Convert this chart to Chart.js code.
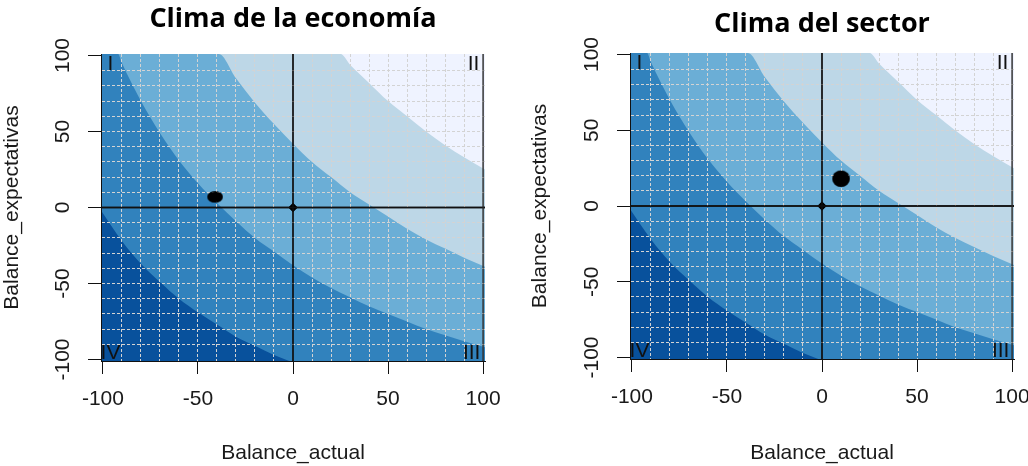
<!DOCTYPE html>
<html lang="es">
<head>
<meta charset="utf-8">
<title>Clima</title>
<script src="https://cdn.jsdelivr.net/npm/chart.js@4.4.1/dist/chart.umd.min.js"></script>
<style>
  html, body { margin: 0; padding: 0; background: #fff; overflow: hidden; }
  #wrap { position: relative; width: 1028px; height: 466px; }
  canvas { position: absolute; top: 0; }
  #chart-a { left: 0; }
  #chart-b { left: 508px; }
</style>
</head>
<body>
<div id="wrap">
  <canvas id="chart-a" width="514" height="466"></canvas>
  <canvas id="chart-b" width="520" height="466"></canvas>
</div>
<script>
const PANEL_TITLES = ['Clima de la economía', 'Clima del sector'];
const X_TITLE = 'Balance_actual';
const Y_TITLE = 'Balance_expectativas';
const AXIS_MIN = -101;
const AXIS_MAX = 101;
const TICK_LABELS = [-100, -50, 0, 50, 100];

// where each sector sits today (Balance_actual, Balance_expectativas)
const POINT_X = [-41, 10];
const POINT_Y = [7, 18];

// contour band edges (same in both panels)
const BAND_COLORS = ['#08519c', '#3182bd', '#6baed6', '#bdd7e7', '#eff3ff'];
const EDGE1_X = [-101, -90, -80, -70, -60, -50, -40, -30, -20, -10, -2];
const EDGE1_Y = [-2, -22, -37, -49, -60, -69, -77, -85, -91, -97, -101];
const EDGE2_X = [-101, -92, -90, -80, -70, -60, -50, -40, -30, -20, -10, 0, 10, 20, 30, 40, 50, 60, 70, 80, 90, 101];
const EDGE2_Y = [101, 101, 95, 70, 49, 31, 16, 3, -9, -20, -29, -38, -46, -53, -59, -65, -70, -75, -80, -84, -88, -92];
const EDGE3_X = [-101, -39, -30, -20, -10, 0, 10, 20, 30, 40, 50, 60, 70, 80, 90, 101];
const EDGE3_Y = [101, 101, 85, 69, 55, 42, 30, 20, 10, 2, -6, -14, -21, -27, -33, -39];
const EDGE4_X = [-101, 25, 30, 40, 50, 60, 70, 80, 90, 101];
const EDGE4_Y = [101, 101, 94, 82, 70, 60, 50, 41, 33, 25];
const EDGE5_X = [-101, 101];
const EDGE5_Y = [101, 101];

// reference lines: the two zero axes and the right edge at 100
const ZERO_LINE = [-101, 101];
const RIGHT_EDGE = 100;

const QUAD_LABELS = ['I', 'II', 'III', 'IV'];
const QUAD_X = [-96, 95, 94, -96];
const QUAD_Y = [94, 94, -96, -96];

const AXIS_FONT = '"Liberation Sans", Arial, sans-serif';
const TITLE_FONT = '"Open Sans", "Noto Sans", sans-serif';

// pixel layout of each panel
const LAYOUT = [
  { padRight: 29, yWidth: 101, xHeight: 105, titleTop: 3, titleBottom: 18.6, yTitlePad: 0, yTickPad: 4, dotW: 15, dotH: 11 },
  { padRight: 14, yWidth: 122, xHeight: 107, titleTop: 8.3, titleBottom: 12.3, yTitlePad: 20, yTickPad: 3.5, dotW: 17, dotH: 16 }
];

// the big marker is a slightly squashed ellipse in the original
function dotStyle(w, h) {
  const c = document.createElement('canvas');
  c.width = w + 2;
  c.height = h + 2;
  const g = c.getContext('2d');
  g.fillStyle = '#000';
  g.beginPath();
  g.ellipse(c.width / 2, c.height / 2, w / 2, h / 2, 0, 0, Math.PI * 2);
  g.fill();
  return c;
}

const quadrantText = {
  id: 'quadrantText',
  afterDraw(chart) {
    const { ctx, scales: { x, y } } = chart;
    ctx.save();
    ctx.font = '21px ' + AXIS_FONT;
    ctx.fillStyle = '#111';
    ctx.textAlign = 'center';
    ctx.textBaseline = 'middle';
    QUAD_LABELS.forEach((t, i) => {
      ctx.fillText(t, x.getPixelForValue(QUAD_X[i]), y.getPixelForValue(QUAD_Y[i]));
    });
    ctx.restore();
  }
};

// grid is drawn above the bands, so put the marks back on top of it
const marksOnTop = {
  id: 'marksOnTop',
  afterDraw(chart) {
    chart.data.datasets.forEach((ds, i) => {
      if (ds.onTop) chart.getDatasetMeta(i).controller.draw();
    });
  }
};

function band(xs, ys, color, order) {
  return {
    data: xs.map((x, i) => ({ x, y: ys[i] })),
    showLine: true,
    fill: 'start',
    backgroundColor: color,
    borderColor: 'transparent',
    borderWidth: 0,
    pointRadius: 0,
    cubicInterpolationMode: 'monotone',
    order
  };
}

function refLine(points, color, width) {
  return {
    data: points,
    showLine: true,
    fill: false,
    borderColor: color,
    borderWidth: width,
    pointRadius: 0,
    onTop: true,
    order: 1
  };
}

function axis(title, isY, lay) {
  return {
    type: 'linear',
    min: AXIS_MIN,
    max: AXIS_MAX,
    afterBuildTicks: (scale) => {
      const ticks = [];
      for (let v = -100; v <= 100; v += 10) ticks.push({ value: v });
      scale.ticks = ticks;
    },
    afterFit: (scale) => {
      if (isY) {
        scale.width = lay.yWidth;
        scale.paddingTop = 0;
        scale.paddingBottom = 0;
      } else {
        scale.height = lay.xHeight;
        scale.paddingLeft = 0;
        scale.paddingRight = 0;
      }
    },
    title: {
      display: true,
      text: title,
      color: '#1a1a1a',
      font: { family: AXIS_FONT, size: 21 },
      padding: isY ? { top: lay.yTitlePad, bottom: 0 } : { top: 0, bottom: 0 }
    },
    ticks: {
      autoSkip: false,
      minRotation: isY ? 90 : 0,
      maxRotation: isY ? 90 : 0,
      crossAlign: isY ? 'center' : 'near',
      padding: isY ? lay.yTickPad : 13,
      color: '#1a1a1a',
      font: { family: AXIS_FONT, size: 21 },
      callback: (v) => TICK_LABELS.includes(v) ? String(v) : ''
    },
    grid: {
      z: 1,
      color: (ctx) => (Math.abs(ctx.tick.value) === 100 || ctx.tick.value === 0) ? 'transparent' : '#d3d3d3',
      lineWidth: 1,
      tickLength: 13,
      tickWidth: 1,
      tickColor: (ctx) => TICK_LABELS.includes(ctx.tick.value) ? '#111' : 'transparent'
    },
    border: {
      display: true,
      z: 1,
      color: '#111',
      width: 1,
      dash: [3, 2]
    }
  };
}

function drawPanel(canvasId, idx) {
  const lay = LAYOUT[idx];
  new Chart(document.getElementById(canvasId), {
    type: 'scatter',
    data: {
      datasets: [
        {
          data: [{ x: POINT_X[idx], y: POINT_Y[idx] }],
          pointStyle: dotStyle(lay.dotW, lay.dotH),
          backgroundColor: '#000',
          borderWidth: 0,
          onTop: true,
          order: 0
        },
        {
          data: [{ x: 0, y: 0 }],
          pointStyle: 'rectRot',
          pointRadius: 4.5,
          backgroundColor: '#000',
          borderWidth: 0,
          onTop: true,
          order: 0
        },
        refLine(ZERO_LINE.map((v) => ({ x: 0, y: v })), '#111', 1.3),
        refLine(ZERO_LINE.map((v) => ({ x: v, y: 0 })), '#111', 1.3),
        refLine(ZERO_LINE.map((v) => ({ x: RIGHT_EDGE, y: v })), '#333', 1),
        band(EDGE1_X, EDGE1_Y, BAND_COLORS[0], 2),
        band(EDGE2_X, EDGE2_Y, BAND_COLORS[1], 3),
        band(EDGE3_X, EDGE3_Y, BAND_COLORS[2], 4),
        band(EDGE4_X, EDGE4_Y, BAND_COLORS[3], 5),
        band(EDGE5_X, EDGE5_Y, BAND_COLORS[4], 6)
      ]
    },
    options: {
      responsive: false,
      animation: false,
      events: [],
      layout: { padding: { left: 0, right: lay.padRight, top: 0, bottom: 0 } },
      plugins: {
        legend: { display: false },
        tooltip: { enabled: false },
        title: {
          display: true,
          text: PANEL_TITLES[idx],
          fullSize: false,
          color: '#000',
          font: { family: TITLE_FONT, size: 27, weight: 'bold', lineHeight: 1.2 },
          padding: { top: lay.titleTop, bottom: lay.titleBottom }
        }
      },
      scales: {
        x: axis(X_TITLE, false, lay),
        y: axis(Y_TITLE, true, lay)
      }
    },
    plugins: [quadrantText, marksOnTop]
  });
}

drawPanel('chart-a', 0);
drawPanel('chart-b', 1);
</script>
</body>
</html>
